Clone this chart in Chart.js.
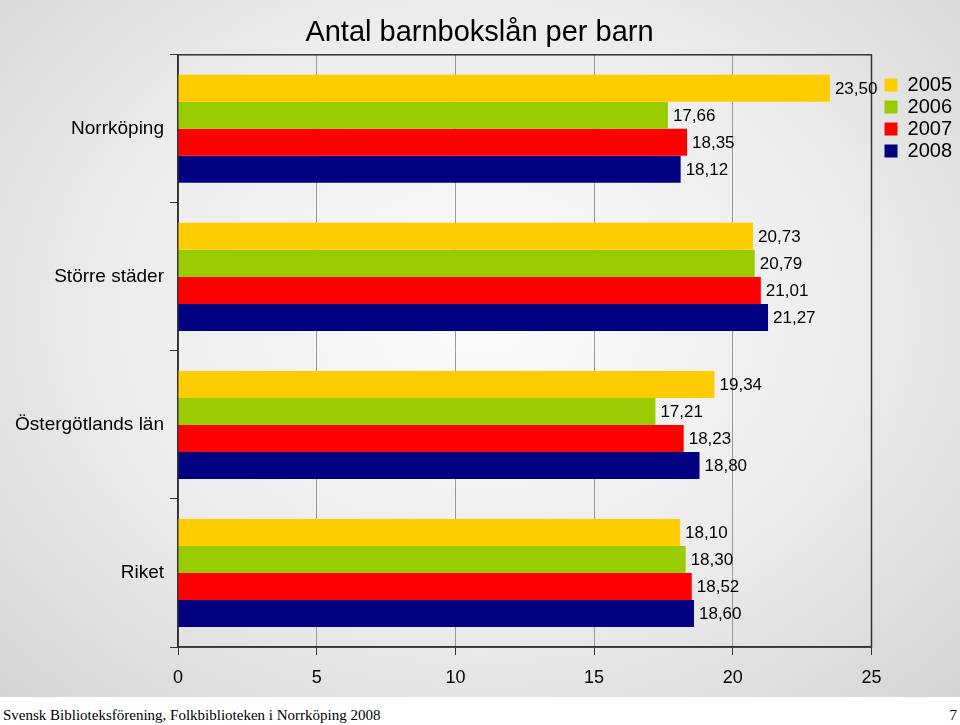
<!DOCTYPE html>
<html>
<head>
<meta charset="utf-8">
<script src="https://cdn.jsdelivr.net/npm/chart.js@4/dist/chart.umd.min.js"></script>
<style>
  html, body { margin: 0; padding: 0; background: #fff; }
  #slide {
    position: relative; width: 960px; height: 697px;
    background: radial-gradient(ellipse at 50% 45%, #fbfbfb 0%, #ececec 55%, #d4d4d4 100%);
  }
  #footer {
    position: relative; width: 960px; height: 28px; background: #fff;
    font-family: "Liberation Serif", "DejaVu Serif", serif; font-size: 15px; color: #000;
  }
  #footer .left { position: absolute; left: 3px; top: 10px; }
  #footer .right { position: absolute; right: 3px; top: 10px; }
</style>
</head>
<body>
<div id="slide"><canvas id="chart" width="960" height="697"></canvas></div>
<div id="footer">
  <span class="left">Svensk Biblioteksförening, Folkbiblioteken i Norrköping 2008</span>
  <span class="right">7</span>
</div>
<script>
// Data
const categories = ['Norrköping', 'Större städer', 'Östergötlands län', 'Riket'];
const years = ['2005', '2006', '2007', '2008'];
const values2005 = [23.50, 20.73, 19.34, 18.10];
const values2006 = [17.66, 20.79, 17.21, 18.30];
const values2007 = [18.35, 21.01, 18.23, 18.52];
const values2008 = [18.12, 21.27, 18.80, 18.60];
const xTicks = [0, 5, 10, 15, 20, 25];

const colors = ['#ffcc00', '#99cc00', '#ff0000', '#000080'];
const seriesValues = [values2005, values2006, values2007, values2008];
const font = '"Liberation Sans", Arial, sans-serif';

// Draws the value next to each bar, with a decimal comma
const valueLabels = {
    id: 'valueLabels',
    afterDatasetsDraw(chart) {
        const ctx = chart.ctx;
        ctx.save();
        ctx.font = '17px ' + font;
        ctx.fillStyle = '#000';
        ctx.textAlign = 'left';
        ctx.textBaseline = 'middle';
        chart.data.datasets.forEach((ds, i) => {
            chart.getDatasetMeta(i).data.forEach((bar, j) => {
                const text = ds.data[j].toFixed(2).replace('.', ',');
                ctx.fillText(text, bar.x + 5, bar.y + 1);
            });
        });
        ctx.restore();
    }
};

// Frame around the plot area (top and right edges)
const plotFrame = {
    id: 'plotFrame',
    beforeDatasetsDraw(chart) {
        const a = chart.chartArea;
        const ctx = chart.ctx;
        ctx.save();
        ctx.strokeStyle = '#333';
        ctx.lineWidth = 1.5;
        ctx.strokeRect(a.left, a.top, a.right - a.left, a.bottom - a.top);
        ctx.restore();
    }
};

// Nudge the legend a little to the right of where the layout puts it
const legendShift = {
    id: 'legendShift',
    afterLayout(chart) {
        chart.legend.left += 11;
        chart.legend.right += 11;
    }
};

const ctx = document.getElementById('chart').getContext('2d');
new Chart(ctx, {
    type: 'bar',
    data: {
        labels: categories,
        datasets: years.map((y, i) => ({
            label: y,
            data: seriesValues[i],
            backgroundColor: colors[i],
            borderWidth: 0,
            categoryPercentage: 0.73,
            barPercentage: 1.0
        }))
    },
    options: {
        indexAxis: 'y',
        responsive: false,
        animation: false,
        layout: { padding: { left: 8, right: 9, top: 4, bottom: 2 } },
        plugins: {
            title: {
                display: true,
                text: 'Antal barnbokslån per barn',
                color: '#000',
                font: { family: font, size: 29, weight: 'normal' },
                padding: { top: 12, bottom: 4 }
            },
            legend: {
                position: 'right',
                align: 'start',
                title: { display: true, text: ' ', font: { size: 10 }, padding: { top: 57, bottom: 0 } },
                labels: {
                    color: '#000',
                    font: { family: font, size: 20 },
                    boxWidth: 13,
                    boxHeight: 13,
                    padding: 2
                }
            },
            tooltip: { enabled: false }
        },
        scales: {
            x: {
                min: 0,
                max: 25,
                afterBuildTicks: scale => { scale.ticks = xTicks.map(v => ({ value: v })); },
                afterFit: scale => { scale.height = 48; },
                ticks: {
                    color: '#000',
                    font: { family: font, size: 18 },
                    padding: 12
                },
                grid: { color: '#999', tickColor: '#333', tickLength: 8, lineWidth: 1 },
                border: { color: '#333', width: 1.5 }
            },
            y: {
                afterFit: scale => { scale.width = 170; },
                ticks: {
                    color: '#000',
                    font: { family: font, size: 19 },
                    padding: 6
                },
                grid: { drawOnChartArea: false, tickColor: '#333', tickLength: 8 },
                border: { color: '#333', width: 1.5 }
            }
        }
    },
    plugins: [plotFrame, valueLabels, legendShift]
});
</script>
</body>
</html>
